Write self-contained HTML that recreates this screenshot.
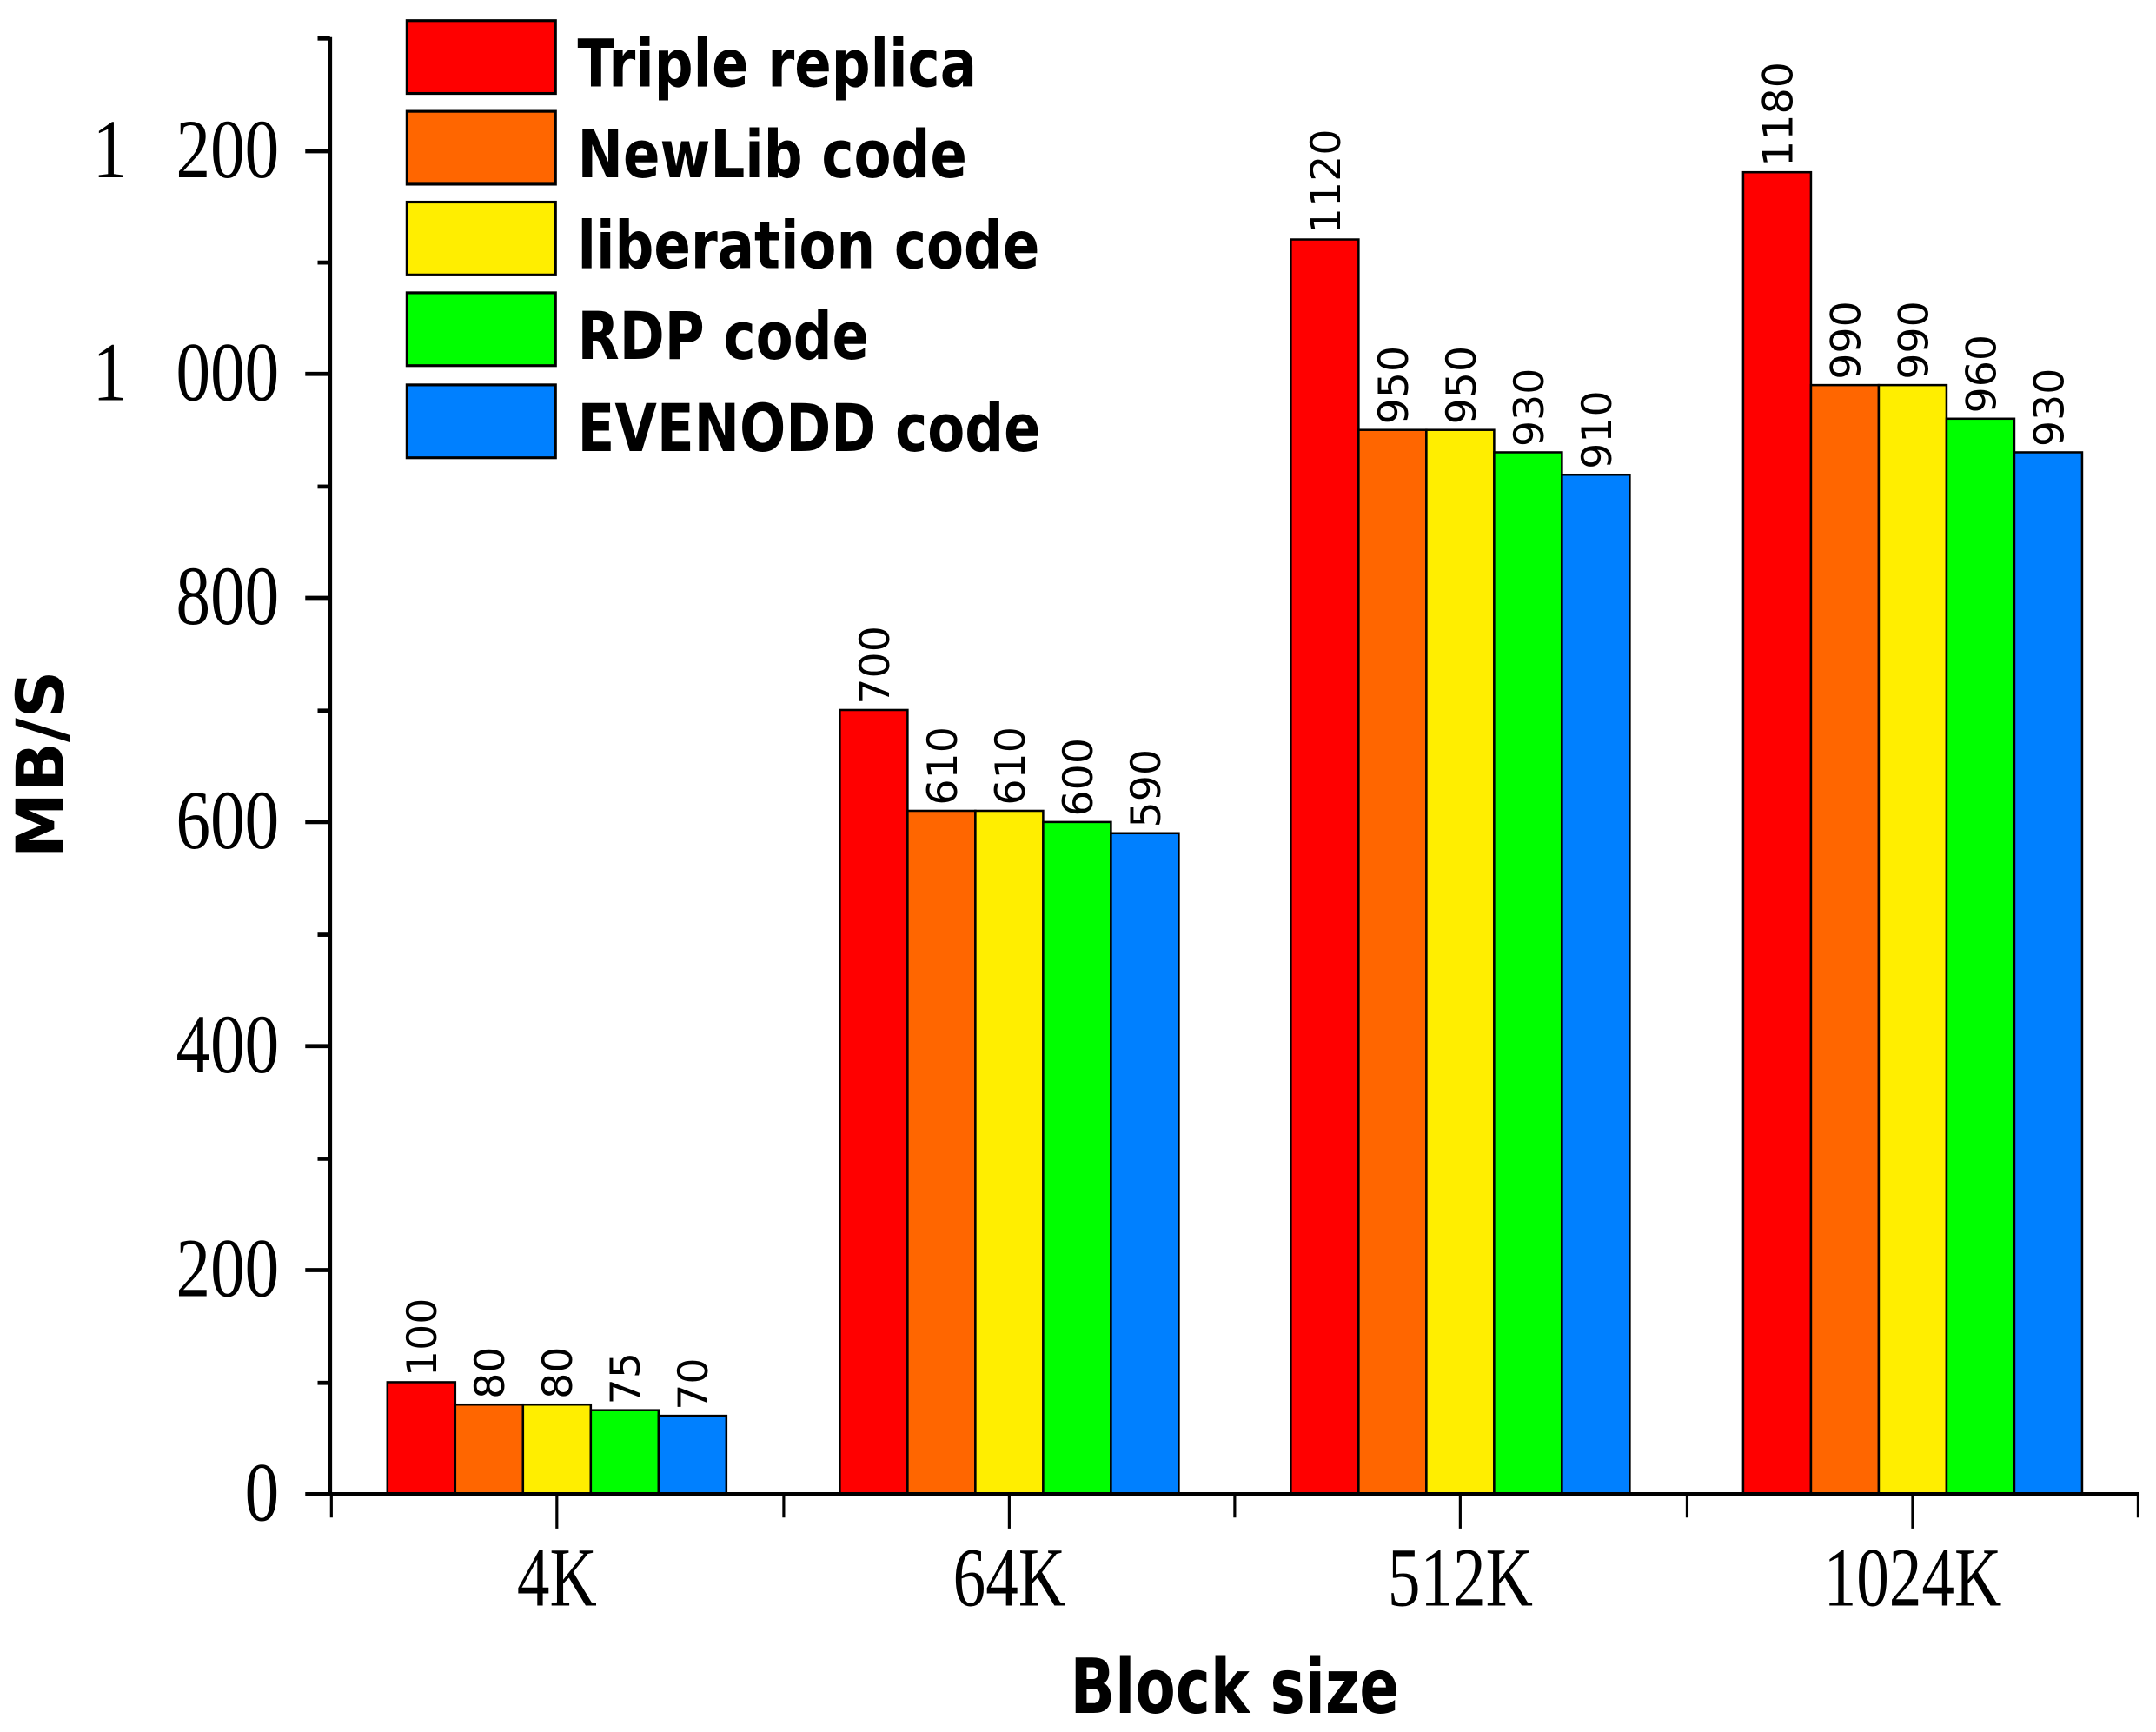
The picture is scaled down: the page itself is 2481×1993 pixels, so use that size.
<!DOCTYPE html>
<html><head><meta charset="utf-8"><style>html,body{margin:0;padding:0;background:#fff}svg{display:block}</style></head>
<body>
<svg width="2481" height="1993" viewBox="0 0 1568 1260" preserveAspectRatio="none" xmlns="http://www.w3.org/2000/svg">
<rect width="1568" height="1260" fill="#fff"/>
<g id="bars" stroke="#000" stroke-width="1.6"></g>
<g id="labels" font-family="'DejaVu Sans','Liberation Sans',sans-serif" font-size="30" fill="#000"></g>
<g stroke="#000" stroke-width="3" fill="none">
<line x1="240" y1="27" x2="240" y2="1088"/>
<line x1="222" y1="1087" x2="1556" y2="1087"/>
<line x1="222" y1="110" x2="240" y2="110"/>
<line x1="222" y1="272" x2="240" y2="272"/>
<line x1="222" y1="435" x2="240" y2="435"/>
<line x1="222" y1="598" x2="240" y2="598"/>
<line x1="222" y1="761" x2="240" y2="761"/>
<line x1="222" y1="924" x2="240" y2="924"/>
<line x1="231" y1="28" x2="240" y2="28"/>
<line x1="231" y1="191" x2="240" y2="191"/>
<line x1="231" y1="354" x2="240" y2="354"/>
<line x1="231" y1="517" x2="240" y2="517"/>
<line x1="231" y1="680" x2="240" y2="680"/>
<line x1="231" y1="843" x2="240" y2="843"/>
<line x1="231" y1="1006" x2="240" y2="1006"/>
</g>
<g stroke="#000" stroke-width="2">
<line x1="241" y1="1087" x2="241" y2="1104"/>
<line x1="405" y1="1087" x2="405" y2="1112"/>
<line x1="570" y1="1087" x2="570" y2="1104"/>
<line x1="734" y1="1087" x2="734" y2="1112"/>
<line x1="898" y1="1087" x2="898" y2="1104"/>
<line x1="1062" y1="1087" x2="1062" y2="1112"/>
<line x1="1227" y1="1087" x2="1227" y2="1104"/>
<line x1="1391" y1="1087" x2="1391" y2="1112"/>
<line x1="1555" y1="1087" x2="1555" y2="1104"/>
</g>
<g font-family="'Liberation Serif',serif" font-size="50" fill="#000">
<g text-anchor="end">
<text transform="translate(203,129) scale(1,1.22)">200</text>
<text transform="translate(203,291) scale(1,1.22)">000</text>
<text transform="translate(203,454) scale(1,1.22)">800</text>
<text transform="translate(203,617) scale(1,1.22)">600</text>
<text transform="translate(203,780) scale(1,1.22)">400</text>
<text transform="translate(203,943) scale(1,1.22)">200</text>
<text transform="translate(203,1106) scale(1,1.22)">0</text>
</g>
<g text-anchor="middle">
<text transform="translate(80,129) scale(1,1.22)">1</text>
<text transform="translate(80,291) scale(1,1.22)">1</text>
<text transform="translate(405,1168) scale(0.95,1.22)">4K</text>
<text transform="translate(734,1168) scale(0.95,1.22)">64K</text>
<text transform="translate(1062,1168) scale(0.95,1.22)">512K</text>
<text transform="translate(1391,1168) scale(0.95,1.22)">1024K</text>
</g>
</g>
<text transform="translate(898,1246) scale(0.93,1.2)" font-family="'DejaVu Sans','Liberation Sans',sans-serif" font-weight="bold" font-size="46" text-anchor="middle">Block size</text>
<text transform="translate(46,556) rotate(-90)" font-family="'DejaVu Sans','Liberation Sans',sans-serif" font-weight="bold" font-size="48" text-anchor="middle">MB/S</text>
<g stroke="#000" stroke-width="2">
<rect x="296" y="15" width="108" height="53" fill="#ff0000"/>
<rect x="296" y="81" width="108" height="53" fill="#ff6600"/>
<rect x="296" y="147" width="108" height="53" fill="#ffee00"/>
<rect x="296" y="213" width="108" height="53" fill="#00ff00"/>
<rect x="296" y="280" width="108" height="53" fill="#0080ff"/>
</g>
<g font-family="'DejaVu Sans','Liberation Sans',sans-serif" font-weight="bold" font-size="40" fill="#000">
<text transform="translate(420,63) scale(0.99,1.2)">Triple replica</text>
<text transform="translate(420,129) scale(0.99,1.2)">NewLib code</text>
<text transform="translate(420,195) scale(0.99,1.2)">liberation code</text>
<text transform="translate(420,261) scale(0.99,1.2)">RDP code</text>
<text transform="translate(420,328) scale(0.99,1.2)">EVENODD code</text>
</g>
<script>
var data=[[100,80,80,75,70],[700,610,610,600,590],[1120,950,950,930,910],[1180,990,990,960,930]];
var cols=["#ff0000","#ff6600","#ffee00","#00ff00","#0080ff"];
var centers=[405,734,1062,1391];
var bw=49.3,bars=document.getElementById('bars'),labs=document.getElementById('labels'),ns="http://www.w3.org/2000/svg";
data.forEach(function(g,i){g.forEach(function(v,j){
 var x=centers[i]-2.5*bw+j*bw,top=1087-v*0.815;
 var r=document.createElementNS(ns,'rect');r.setAttribute('x',x);r.setAttribute('y',top);r.setAttribute('width',bw);r.setAttribute('height',1087-top);r.setAttribute('fill',cols[j]);bars.appendChild(r);
 var t=document.createElementNS(ns,'text');var cx=x+bw/2+11,cy=top-4;t.setAttribute('transform','translate('+cx+','+cy+') rotate(-90)');t.textContent=v;labs.appendChild(t);
});});
</script>
</svg>
</body></html>
